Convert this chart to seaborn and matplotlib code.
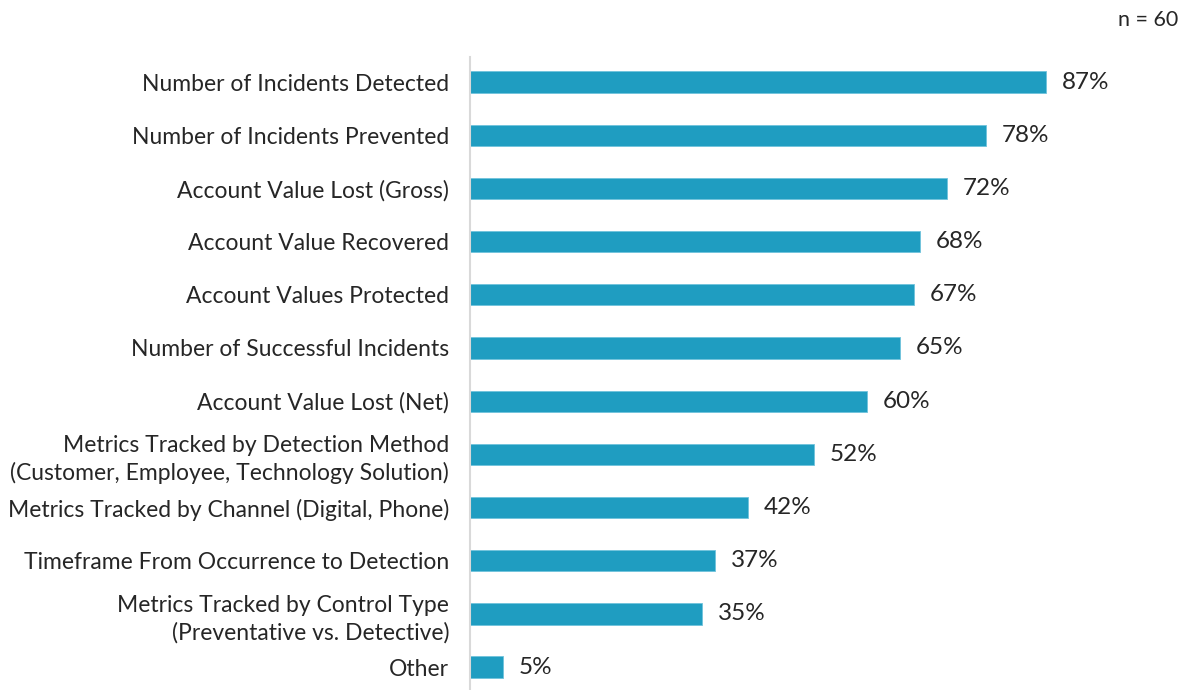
import matplotlib
matplotlib.use("Agg")
import matplotlib.pyplot as plt
import seaborn as sns
import pandas as pd

categories = [
    "Number of Incidents Detected",
    "Number of Incidents Prevented",
    "Account Value Lost (Gross)",
    "Account Value Recovered",
    "Account Values Protected",
    "Number of Successful Incidents",
    "Account Value Lost (Net)",
    "Metrics Tracked by Detection Method\n(Customer, Employee, Technology Solution)",
    "Metrics Tracked by Channel (Digital, Phone)",
    "Timeframe From Occurrence to Detection",
    "Metrics Tracked by Control Type\n(Preventative vs. Detective)",
    "Other",
]
values = [87, 78, 72, 68, 67, 65, 60, 52, 42, 37, 35, 5]
sample_note = "n = 60"

sns.set_theme(style="white")
plt.rcParams["font.family"] = ["Lato", "DejaVu Sans"]

df = pd.DataFrame({"metric": categories, "pct": values})

fig = plt.figure(figsize=(11.78, 6.9), dpi=100)
ax = fig.add_axes([470 / 1178, 0.0, (1132 - 470) / 1178, 1 - 57 / 690])

bar_color = "#1f9dc1"
sns.barplot(data=df, y="metric", x="pct", orient="h", color=bar_color,
            width=0.4, saturation=1, edgecolor="#6fc3dc", linewidth=0.6, ax=ax)

ax.set_xlim(0, 100)
ax.set_ylim(len(categories) - 0.57, -0.47)
ax.set_xlabel("")
ax.set_ylabel("")
ax.set_xticks([])
ax.tick_params(axis="y", length=0, pad=15, labelsize=16.5, labelcolor="#262626")
for lbl in ax.get_yticklabels():
    lbl.set_multialignment("right")
    lbl.set_linespacing(1.35)

for s in ["top", "right", "bottom"]:
    ax.spines[s].set_visible(False)
ax.spines["left"].set_color("#d9d9d9")
ax.spines["left"].set_linewidth(1.5)

for i, v in enumerate(values):
    ax.text(v + 2.4, i, f"{v}%", va="center", ha="left", fontsize=17.5, color="#262626")

fig.text(1.0, 1 - 20 / 690, sample_note, ha="right", va="center", fontsize=15.5, color="#262626")

fig.savefig("out.png", dpi=100)
